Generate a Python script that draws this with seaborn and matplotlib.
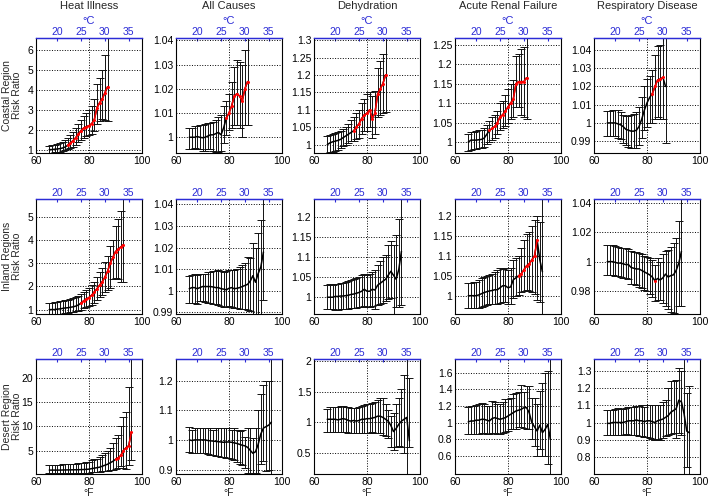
import pandas as pd
import matplotlib
matplotlib.use("Agg")
import matplotlib.pyplot as plt
import seaborn as sns

OUTCOMES = ["Heat Illness", "All Causes", "Dehydration", "Acute Renal Failure", "Respiratory Disease"]
REGIONS = ["Coastal Region\nRisk Ratio", "Inland Regions\nRisk Ratio", "Desert Region\nRisk Ratio"]

# temperature bins (deg F) for each region
TEMP_COAST = list(range(65, 88))
TEMP_INLAND = list(range(65, 94))
TEMP_DESERT = list(range(65, 97))

# ---- coastal ----
COAST_HEAT_MEAN = [1.0, 1.0, 1.02, 1.03, 1.05, 1.08, 1.13, 1.22, 1.33, 1.45, 1.6, 1.78, 1.95, 2.08, 2.15, 2.2, 2.3, 2.5, 3.1, 3.35, 3.55, 3.85, 4.15]
COAST_HEAT_LO = [0.85, 0.85, 0.87, 0.88, 0.9, 0.92, 0.97, 1.02, 1.08, 1.15, 1.25, 1.38, 1.5, 1.6, 1.68, 1.72, 1.8, 1.95, 2.3, 2.45, 2.55, 2.5, 2.45]
COAST_HEAT_HI = [1.2, 1.22, 1.25, 1.3, 1.35, 1.4, 1.5, 1.6, 1.75, 1.9, 2.1, 2.3, 2.5, 2.7, 2.85, 3.0, 3.2, 3.55, 4.3, 4.6, 5.0, 5.75, 7.5]
COAST_HEAT_RED = (72, 87)

COAST_ALL_MEAN = [1.0, 1.0, 1.0, 1.0003, 1.0, 0.9998, 1.0, 1.0005, 1.001, 1.001, 1.0015, 1.002, 1.001, 1.004, 1.008, 1.010, 1.013, 1.017, 1.018, 1.017, 1.015, 1.020, 1.023]
COAST_ALL_LO = [0.995, 0.995, 0.9955, 0.995, 0.995, 0.9945, 0.9945, 0.995, 0.995, 0.9945, 0.994, 0.994, 0.9945, 0.9975, 1.001, 1.003, 1.004, 1.005, 1.005, 1.004, 1.0, 1.005, 1.005]
COAST_ALL_HI = [1.004, 1.004, 1.0045, 1.0045, 1.005, 1.005, 1.0055, 1.006, 1.006, 1.0065, 1.007, 1.0085, 1.009, 1.013, 1.015, 1.018, 1.023, 1.029, 1.032, 1.031, 1.03, 1.036, 1.05]
COAST_ALL_RED = (79, 87)

COAST_DEHY_MEAN = [1.0, 1.005, 1.008, 1.01, 1.012, 1.015, 1.02, 1.025, 1.03, 1.035, 1.04, 1.05, 1.06, 1.075, 1.085, 1.09, 1.10, 1.075, 1.09, 1.145, 1.16, 1.175, 1.2]
COAST_DEHY_LO = [0.975, 0.978, 0.98, 0.982, 0.985, 0.99, 0.995, 1.0, 1.005, 1.01, 1.01, 1.015, 1.02, 1.03, 1.04, 1.04, 1.05, 1.02, 1.03, 1.08, 1.085, 1.09, 1.095]
COAST_DEHY_HI = [1.025, 1.028, 1.03, 1.032, 1.035, 1.04, 1.045, 1.05, 1.06, 1.07, 1.08, 1.09, 1.1, 1.12, 1.13, 1.145, 1.15, 1.14, 1.155, 1.22, 1.24, 1.26, 1.35]
COAST_DEHY_RED = (75, 87)

COAST_ARF_MEAN = [1.0, 1.005, 1.005, 1.005, 1.006, 1.007, 1.01, 1.02, 1.03, 1.035, 1.04, 1.05, 1.065, 1.07, 1.08, 1.09, 1.1, 1.11, 1.15, 1.155, 1.155, 1.155, 1.165]
COAST_ARF_LO = [0.978, 0.98, 0.982, 0.983, 0.985, 0.985, 0.988, 0.995, 1.0, 1.005, 1.01, 1.02, 1.03, 1.035, 1.04, 1.05, 1.06, 1.065, 1.09, 1.09, 1.07, 1.065, 1.06]
COAST_ARF_HI = [1.022, 1.025, 1.027, 1.028, 1.03, 1.03, 1.035, 1.045, 1.055, 1.065, 1.07, 1.08, 1.1, 1.105, 1.12, 1.135, 1.15, 1.16, 1.22, 1.225, 1.24, 1.245, 1.3]
COAST_ARF_RED = (73, 87)

COAST_RESP_MEAN = [1.0, 1.0, 1.0, 1.0, 0.9995, 0.999, 0.998, 0.9965, 0.996, 0.9955, 0.9955, 0.996, 0.998, 1.002, 1.007, 1.011, 1.014, 1.016, 1.02, 1.0235, 1.024, 1.025, 1.02]
COAST_RESP_LO = [0.993, 0.993, 0.993, 0.993, 0.992, 0.991, 0.989, 0.988, 0.987, 0.986, 0.986, 0.986, 0.988, 0.992, 0.996, 0.998, 1.0, 1.0, 1.002, 1.003, 1.002, 1.002, 0.989]
COAST_RESP_HI = [1.0065, 1.0065, 1.007, 1.007, 1.007, 1.006, 1.0045, 1.004, 1.004, 1.0045, 1.005, 1.006, 1.009, 1.014, 1.02, 1.024, 1.026, 1.029, 1.037, 1.042, 1.043, 1.047, 1.06]
COAST_RESP_RED = (82, 86)

# ---- inland ----
INLAND_HEAT_MEAN = [1.0, 1.0, 1.0, 1.02, 1.03, 1.05, 1.07, 1.08, 1.1, 1.12, 1.15, 1.2, 1.28, 1.38, 1.45, 1.52, 1.62, 1.75, 1.9, 2.05, 2.2, 2.4, 2.65, 3.0, 3.25, 3.5, 3.6, 3.7, 3.8]
INLAND_HEAT_LO = [0.8, 0.8, 0.8, 0.82, 0.82, 0.83, 0.85, 0.87, 0.88, 0.9, 0.92, 0.95, 1.0, 1.05, 1.1, 1.15, 1.2, 1.3, 1.4, 1.55, 1.65, 1.75, 1.85, 1.95, 2.3, 2.35, 2.3, 2.2, 2.2]
INLAND_HEAT_HI = [1.3, 1.3, 1.32, 1.33, 1.35, 1.38, 1.4, 1.42, 1.45, 1.5, 1.55, 1.6, 1.68, 1.75, 1.85, 1.95, 2.05, 2.2, 2.4, 2.6, 2.8, 3.05, 3.3, 3.75, 4.0, 4.6, 4.9, 5.25, 6.5]
INLAND_HEAT_RED = (77, 93)

INLAND_ALL_MEAN = [1.001, 1.0015, 1.0015, 1.001, 1.0015, 1.002, 1.002, 1.002, 1.002, 1.0018, 1.0015, 1.0015, 1.001, 1.0008, 1.0005, 1.0012, 1.0015, 1.001, 1.0012, 1.0015, 1.002, 1.0025, 1.003, 1.0045, 1.007, 1.004, 1.008, 1.011, 1.018]
INLAND_ALL_LO = [0.9945, 0.9945, 0.9945, 0.994, 0.9955, 0.9955, 0.995, 0.9945, 0.9945, 0.994, 0.994, 0.9935, 0.993, 0.9925, 0.9925, 0.993, 0.9925, 0.992, 0.992, 0.9915, 0.9915, 0.9915, 0.991, 0.9905, 0.9895, 0.988, 0.989, 0.989, 0.996]
INLAND_ALL_HI = [1.007, 1.0075, 1.008, 1.0075, 1.008, 1.008, 1.008, 1.0085, 1.0085, 1.009, 1.009, 1.0095, 1.009, 1.0085, 1.009, 1.0095, 1.0095, 1.0095, 1.01, 1.011, 1.012, 1.013, 1.0155, 1.015, 1.022, 1.02, 1.027, 1.033, 1.05]
INLAND_ALL_RED = None

INLAND_DEHY_MEAN = [1.0, 1.0, 1.0, 1.002, 1.002, 1.003, 1.003, 1.004, 1.005, 1.007, 1.008, 1.01, 1.012, 1.015, 1.02, 1.015, 1.015, 1.02, 1.018, 1.03, 1.035, 1.04, 1.045, 1.055, 1.065, 1.055, 1.045, 1.07, 1.115]
INLAND_DEHY_LO = [0.97, 0.97, 0.97, 0.968, 0.968, 0.97, 0.97, 0.97, 0.97, 0.972, 0.973, 0.974, 0.975, 0.976, 0.977, 0.975, 0.975, 0.978, 0.97, 0.98, 0.982, 0.985, 0.99, 0.995, 0.998, 0.94, 0.975, 0.975, 0.98]
INLAND_DEHY_HI = [1.03, 1.032, 1.03, 1.032, 1.033, 1.035, 1.035, 1.037, 1.04, 1.042, 1.045, 1.047, 1.05, 1.055, 1.058, 1.055, 1.058, 1.062, 1.068, 1.08, 1.09, 1.1, 1.105, 1.13, 1.14, 1.13, 1.155, 1.195, 1.26]
INLAND_DEHY_RED = None

INLAND_ARF_MEAN = [1.0, 1.0, 1.0, 1.0, 1.002, 1.005, 1.008, 1.01, 1.012, 1.013, 1.015, 1.015, 1.02, 1.025, 1.025, 1.02, 1.022, 1.04, 1.045, 1.05, 1.055, 1.065, 1.075, 1.08, 1.09, 1.1, 1.14, 1.09, 1.06]
INLAND_ARF_LO = [0.97, 0.968, 0.968, 0.97, 0.97, 0.972, 0.975, 0.977, 0.98, 0.98, 0.98, 0.978, 0.982, 0.985, 0.985, 0.98, 0.98, 0.993, 1.0, 1.003, 1.01, 1.012, 1.015, 1.012, 1.01, 1.005, 0.99, 0.985, 0.94]
INLAND_ARF_HI = [1.033, 1.033, 1.035, 1.035, 1.04, 1.045, 1.048, 1.05, 1.052, 1.055, 1.06, 1.065, 1.07, 1.068, 1.07, 1.065, 1.07, 1.09, 1.095, 1.1, 1.12, 1.14, 1.155, 1.16, 1.175, 1.19, 1.2, 1.185, 1.26]
INLAND_ARF_RED = (84, 91)

INLAND_RESP_MEAN = [1.0, 1.0, 1.0, 0.9995, 0.999, 0.999, 0.9985, 0.998, 0.998, 0.996, 0.9955, 0.995, 0.995, 0.994, 0.993, 0.992, 0.991, 0.9895, 0.987, 0.9885, 0.9875, 0.989, 0.9915, 0.9895, 0.9905, 0.991, 0.994, 0.999, 1.007]
INLAND_RESP_LO = [0.991, 0.991, 0.991, 0.9905, 0.990, 0.9895, 0.989, 0.989, 0.988, 0.985, 0.9845, 0.984, 0.983, 0.982, 0.981, 0.98, 0.978, 0.976, 0.973, 0.974, 0.974, 0.972, 0.97, 0.968, 0.966, 0.965, 0.96, 0.97, 0.97]
INLAND_RESP_HI = [1.011, 1.011, 1.011, 1.0105, 1.01, 1.0095, 1.009, 1.009, 1.0085, 1.007, 1.0065, 1.0065, 1.006, 1.005, 1.004, 1.003, 1.0025, 1.001, 0.998, 1.0025, 1.0, 1.005, 1.007, 1.008, 1.01, 1.013, 1.016, 1.028, 1.05]
INLAND_RESP_RED = (83, 83)

# ---- desert ----
DESERT_HEAT_MEAN = [1.0, 1.0, 1.0, 1.0, 1.0, 1.02, 1.03, 1.04, 1.05, 1.06, 1.07, 1.08, 1.1, 1.12, 1.15, 1.2, 1.3, 1.4, 1.5, 1.6, 1.8, 2.0, 2.2, 2.5, 2.8, 3.2, 3.5, 4.0, 5.0, 5.6, 6.0, 8.8]
DESERT_HEAT_LO = [0.4, 0.4, 0.4, 0.42, 0.42, 0.43, 0.43, 0.44, 0.45, 0.45, 0.46, 0.47, 0.48, 0.49, 0.5, 0.5, 0.55, 0.6, 0.65, 0.7, 0.75, 0.8, 0.9, 1.0, 1.1, 1.2, 1.5, 1.8, 1.5, 1.3, 2.0, 3.0]
DESERT_HEAT_HI = [2.0, 2.0, 2.1, 2.1, 2.1, 2.2, 2.2, 2.2, 2.3, 2.3, 2.3, 2.4, 2.5, 2.5, 2.6, 2.7, 3.0, 3.2, 3.3, 3.6, 4.0, 4.5, 5.0, 5.5, 6.5, 7.5, 8.3, 10.0, 12.0, 13.0, 18.0, 30.0]
DESERT_HEAT_RED = (90, 96)

DESERT_ALL_MEAN = [1.0, 0.998, 1.0, 1.0, 1.0, 1.0, 1.0, 0.998, 0.997, 0.996, 0.995, 0.994, 0.993, 0.992, 0.993, 0.993, 0.992, 0.99, 0.988, 0.985, 0.982, 0.98, 0.975, 0.965, 0.955, 0.96, 0.985, 1.02, 1.04, 1.045, 1.05, 1.06]
DESERT_ALL_LO = [0.96, 0.955, 0.955, 0.955, 0.955, 0.955, 0.955, 0.952, 0.95, 0.948, 0.945, 0.945, 0.943, 0.942, 0.94, 0.94, 0.935, 0.932, 0.925, 0.92, 0.915, 0.905, 0.89, 0.89, 0.88, 0.89, 0.885, 0.92, 0.93, 0.895, 0.9, 0.85]
DESERT_ALL_HI = [1.045, 1.035, 1.04, 1.04, 1.04, 1.04, 1.04, 1.04, 1.04, 1.035, 1.04, 1.04, 1.04, 1.04, 1.04, 1.04, 1.035, 1.04, 1.035, 1.03, 1.035, 1.01, 1.04, 1.04, 1.005, 1.04, 1.1, 1.155, 1.185, 1.2, 1.2, 1.35]
DESERT_ALL_RED = None

DESERT_DEHY_MEAN = [1.05, 1.05, 1.05, 1.05, 1.04, 1.05, 1.06, 1.05, 1.03, 1.02, 1.03, 1.02, 1.03, 1.05, 1.05, 1.06, 1.06, 1.07, 1.08, 1.1, 1.1, 1.08, 1.05, 1.02, 0.95, 0.85, 0.9, 0.97, 1.02, 1.05, 1.08, 0.7]
DESERT_DEHY_LO = [0.85, 0.85, 0.85, 0.85, 0.84, 0.85, 0.85, 0.84, 0.83, 0.82, 0.83, 0.82, 0.82, 0.83, 0.83, 0.83, 0.82, 0.84, 0.83, 0.82, 0.82, 0.8, 0.78, 0.75, 0.6, 0.55, 0.6, 0.62, 0.6, 0.5, 0.0, 0.6]
DESERT_DEHY_HI = [1.22, 1.25, 1.25, 1.25, 1.25, 1.26, 1.27, 1.25, 1.25, 1.23, 1.24, 1.23, 1.25, 1.26, 1.28, 1.3, 1.3, 1.32, 1.33, 1.36, 1.4, 1.4, 1.3, 1.2, 1.1, 1.15, 1.3, 1.4, 1.55, 1.77, 2.5, 1.72]
DESERT_DEHY_RED = None

DESERT_ARF_MEAN = [1.01, 1.02, 1.02, 1.03, 1.03, 1.04, 1.04, 1.03, 1.02, 1.05, 1.06, 1.05, 1.04, 1.05, 1.06, 1.08, 1.1, 1.12, 1.14, 1.15, 1.16, 1.18, 1.18, 1.12, 1.0, 0.95, 0.9, 0.97, 0.88, 0.92, 0.98, 0.8]
DESERT_ARF_LO = [0.86, 0.86, 0.86, 0.87, 0.87, 0.88, 0.88, 0.87, 0.86, 0.88, 0.88, 0.87, 0.87, 0.88, 0.89, 0.9, 0.92, 0.93, 0.93, 0.95, 0.95, 0.94, 0.93, 0.92, 0.8, 0.72, 0.6, 0.68, 0.6, 0.6, 0.5, 0.3]
DESERT_ARF_HI = [1.19, 1.2, 1.2, 1.21, 1.22, 1.24, 1.23, 1.2, 1.2, 1.26, 1.25, 1.22, 1.23, 1.25, 1.28, 1.28, 1.3, 1.34, 1.36, 1.37, 1.45, 1.37, 1.44, 1.44, 1.3, 1.3, 1.23, 1.38, 1.48, 1.6, 1.62, 2.0]
DESERT_ARF_RED = None

DESERT_RESP_MEAN = [0.995, 0.995, 1.0, 1.0, 1.0, 1.0, 1.0, 1.005, 1.01, 1.01, 1.01, 1.015, 1.01, 1.01, 1.005, 1.01, 1.01, 1.005, 1.0, 1.01, 1.015, 1.02, 1.03, 1.04, 1.06, 1.07, 1.08, 1.13, 1.12, 1.05, 0.95, 0.94]
DESERT_RESP_LO = [0.93, 0.93, 0.93, 0.93, 0.93, 0.93, 0.93, 0.935, 0.93, 0.93, 0.925, 0.925, 0.92, 0.92, 0.915, 0.915, 0.91, 0.905, 0.9, 0.905, 0.9, 0.91, 0.92, 0.93, 0.935, 0.94, 0.91, 0.94, 0.93, 0.6, 0.74, 0.7]
DESERT_RESP_HI = [1.07, 1.07, 1.07, 1.08, 1.085, 1.08, 1.08, 1.085, 1.09, 1.09, 1.09, 1.095, 1.095, 1.1, 1.09, 1.1, 1.1, 1.1, 1.1, 1.1, 1.1, 1.12, 1.13, 1.2, 1.24, 1.24, 1.25, 1.32, 1.3, 1.5, 1.17, 1.21]
DESERT_RESP_RED = None

TEMPS = [TEMP_COAST, TEMP_INLAND, TEMP_DESERT]
PANELS = [
    [(COAST_HEAT_MEAN, COAST_HEAT_LO, COAST_HEAT_HI, COAST_HEAT_RED),
     (COAST_ALL_MEAN, COAST_ALL_LO, COAST_ALL_HI, COAST_ALL_RED),
     (COAST_DEHY_MEAN, COAST_DEHY_LO, COAST_DEHY_HI, COAST_DEHY_RED),
     (COAST_ARF_MEAN, COAST_ARF_LO, COAST_ARF_HI, COAST_ARF_RED),
     (COAST_RESP_MEAN, COAST_RESP_LO, COAST_RESP_HI, COAST_RESP_RED)],
    [(INLAND_HEAT_MEAN, INLAND_HEAT_LO, INLAND_HEAT_HI, INLAND_HEAT_RED),
     (INLAND_ALL_MEAN, INLAND_ALL_LO, INLAND_ALL_HI, INLAND_ALL_RED),
     (INLAND_DEHY_MEAN, INLAND_DEHY_LO, INLAND_DEHY_HI, INLAND_DEHY_RED),
     (INLAND_ARF_MEAN, INLAND_ARF_LO, INLAND_ARF_HI, INLAND_ARF_RED),
     (INLAND_RESP_MEAN, INLAND_RESP_LO, INLAND_RESP_HI, INLAND_RESP_RED)],
    [(DESERT_HEAT_MEAN, DESERT_HEAT_LO, DESERT_HEAT_HI, DESERT_HEAT_RED),
     (DESERT_ALL_MEAN, DESERT_ALL_LO, DESERT_ALL_HI, DESERT_ALL_RED),
     (DESERT_DEHY_MEAN, DESERT_DEHY_LO, DESERT_DEHY_HI, DESERT_DEHY_RED),
     (DESERT_ARF_MEAN, DESERT_ARF_LO, DESERT_ARF_HI, DESERT_ARF_RED),
     (DESERT_RESP_MEAN, DESERT_RESP_LO, DESERT_RESP_HI, DESERT_RESP_RED)],
]

YLIMS = [
    [(0.83, 6.6), (0.9935, 1.041), (0.976, 1.306), (0.972, 1.267), (0.9835, 1.0466)],
    [(0.81, 5.77), (0.9893, 1.0425), (0.958, 1.246), (0.954, 1.243), (0.9643, 1.0427)],
    [(0.2, 23.8), (0.885, 1.273), (0.16, 2.03), (0.384, 1.764), (0.70, 1.37)],
]
YTICKS = [
    [[1, 2, 3, 4, 5, 6], [1, 1.01, 1.02, 1.03, 1.04], [1, 1.05, 1.1, 1.15, 1.2, 1.25, 1.3],
     [1, 1.05, 1.1, 1.15, 1.2, 1.25], [0.99, 1, 1.01, 1.02, 1.03, 1.04]],
    [[1, 2, 3, 4, 5], [0.99, 1, 1.01, 1.02, 1.03, 1.04], [1, 1.05, 1.1, 1.15, 1.2],
     [1, 1.05, 1.1, 1.15, 1.2], [0.98, 1, 1.02, 1.04]],
    [[5, 10, 15, 20], [0.9, 1, 1.1, 1.2], [0.5, 1, 1.5, 2],
     [0.6, 0.8, 1, 1.2, 1.4, 1.6], [0.8, 0.9, 1, 1.1, 1.2, 1.3]],
]

BLUE = "#2b2bd6"
W, H = 709, 499
COL_LEFT = [36, 176, 314, 455, 594]
ROW_TOP = [38, 199, 359]
AX_W, AX_H = 106, 115


def f2c(f):
    return (f - 32) * 5 / 9


def c2f(c):
    return c * 9 / 5 + 32


sns.set_style("white")
plt.rcParams["font.family"] = ["Liberation Sans", "DejaVu Sans"]

fig = plt.figure(figsize=(W / 100, H / 100), dpi=100)

for r in range(3):
    for c in range(5):
        left = COL_LEFT[c] / W
        bottom = 1 - (ROW_TOP[r] + AX_H) / H
        ax = fig.add_axes([left, bottom, AX_W / W, AX_H / H])
        mean, lo, hi, red = PANELS[r][c]
        df = pd.DataFrame({"F": TEMPS[r], "rr": mean, "lo": lo, "hi": hi})

        ax.errorbar(df["F"], df["rr"], yerr=[df["rr"] - df["lo"], df["hi"] - df["rr"]],
                    fmt="none", ecolor="#111111", elinewidth=0.7, capsize=2.8, capthick=0.7)
        sns.lineplot(data=df, x="F", y="rr", color="k", lw=1.1, estimator=None, ax=ax)
        if red is not None:
            sub = df[(df["F"] >= red[0]) & (df["F"] <= red[1])]
            sns.lineplot(data=sub, x="F", y="rr", color="red", lw=1.1, estimator=None,
                         marker="o", markersize=2.2, markeredgewidth=0, ax=ax)

        ax.set_xlim(60, 100)
        ax.set_ylim(*YLIMS[r][c])
        ax.set_xticks([60, 80, 100])
        ax.set_yticks(YTICKS[r][c])
        ax.set_yticklabels(["%g" % v for v in YTICKS[r][c]])
        ax.grid(True, ls=":", color="k", lw=0.7)
        ax.tick_params(labelsize=7.5, direction="in", length=2, pad=2, colors="k")
        ax.set_xlabel("")
        ax.set_ylabel("")
        for s in ["left", "right", "bottom"]:
            ax.spines[s].set_color("k")
            ax.spines[s].set_linewidth(0.8)
        ax.spines["top"].set_color(BLUE)
        ax.spines["top"].set_linewidth(1.0)

        sec = ax.secondary_xaxis("top", functions=(f2c, c2f))
        sec.set_xticks([20, 25, 30, 35])
        sec.tick_params(labelsize=7.5, colors=BLUE, direction="in", length=2, pad=1)
        sec.spines["top"].set_color(BLUE)

        cx = left + AX_W / W / 2
        if r == 0:
            fig.text(cx, 1 - 6 / H, OUTCOMES[c], ha="center", va="center", fontsize=8)
            fig.text(cx, 1 - 21 / H, "°C", ha="center", va="center", fontsize=8, color=BLUE)
        if r == 2:
            fig.text(cx, 1 - 493 / H, "°F", ha="center", va="center", fontsize=7.5)

    fig.text(12 / W, 1 - (ROW_TOP[r] + AX_H / 2) / H, REGIONS[r], rotation=90,
             ha="center", va="center", fontsize=7.5, linespacing=1.0, multialignment="center")

fig.savefig("out.png", dpi=100)
